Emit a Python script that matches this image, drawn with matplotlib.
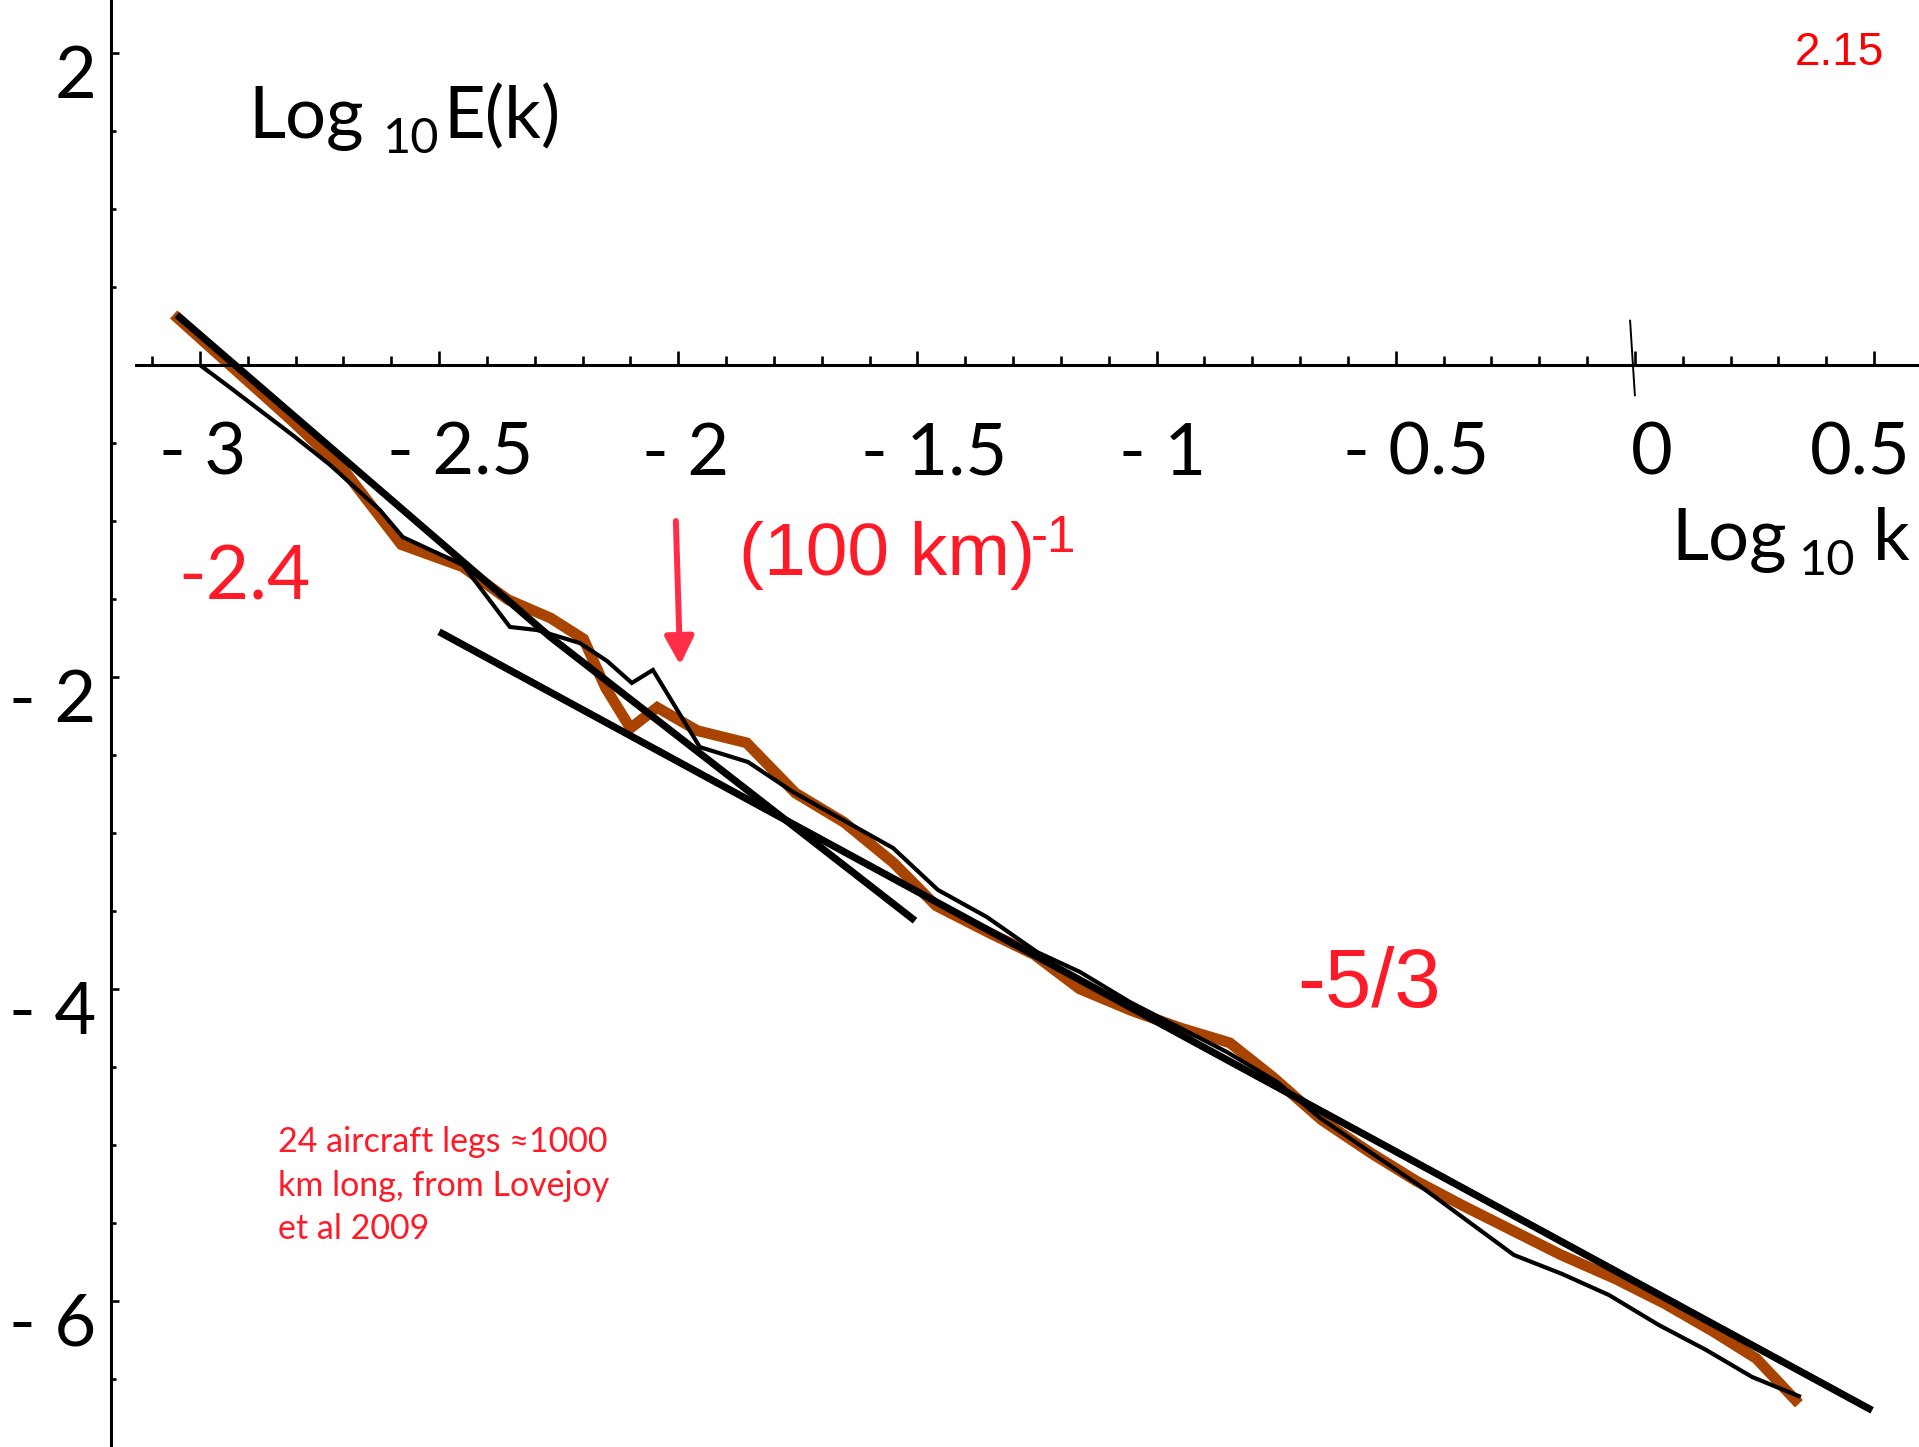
import matplotlib
matplotlib.use("Agg")
import numpy as np
import matplotlib.pyplot as plt
from matplotlib.ticker import FixedLocator
from matplotlib.transforms import ScaledTranslation

# ---------------- data (log10 k , log10 E(k)) ----------------
brown_x = [-3.055, -2.804, -2.697, -2.579, -2.451, -2.356, -2.267, -2.198, -2.152,
           -2.100, -2.044, -1.960, -1.857, -1.755, -1.653, -1.550, -1.461, -1.351,
           -1.256, -1.161, -1.051, -0.949, -0.847, -0.757, -0.655, -0.552, -0.457,
           -0.360, -0.258, -0.156, -0.040, 0.062, 0.164, 0.254, 0.343]
brown_y = [0.324, -0.367, -0.681, -1.151, -1.293, -1.504, -1.622, -1.756, -2.069,
           -2.328, -2.195, -2.344, -2.422, -2.744, -2.932, -3.191, -3.466, -3.638,
           -3.779, -3.999, -4.140, -4.251, -4.345, -4.564, -4.839, -5.051, -5.231,
           -5.388, -5.545, -5.702, -5.859, -6.016, -6.196, -6.369, -6.659]

thin_x = [-3.000, -2.944, -2.806, -2.728, -2.624, -2.576, -2.450, -2.352, -2.295,
          -2.206, -2.149, -2.097, -2.053, -1.955, -1.854, -1.760, -1.551, -1.457,
          -1.355, -1.250, -1.160, -1.056, -0.853, -0.748, -0.658, -0.560, -0.449,
          -0.253, -0.152, -0.054, 0.050, 0.149, 0.245, 0.347]
thin_y = [0.000, -0.128, -0.450, -0.640, -0.929, -1.103, -1.282, -1.679, -1.699,
          -1.782, -1.897, -2.038, -1.955, -2.449, -2.545, -2.737, -3.096, -3.365,
          -3.538, -3.763, -3.891, -4.083, -4.404, -4.596, -4.827, -5.032, -5.263,
          -5.705, -5.827, -5.962, -6.154, -6.314, -6.487, -6.615]

fit_steep_x = [-3.048, -2.268, -1.505]
fit_steep_y = [0.321, -1.742, -3.562]
fit_k53_x = [-2.500, 0.496]
fit_k53_y = [-1.710, -6.701]

zero_mark_x = [-0.010, 0.000]
zero_mark_y = [0.284, -0.194]

arrow_tail = (-2.005, -1.000)
arrow_tip = (-1.996, -1.923)

xtick_vals = [-3, -2.5, -2, -1.5, -1, -0.5, 0, 0.5]
xtick_labels = ["- 3", "- 2.5", "- 2", "- 1.5", "- 1", "- 0.5", "0", "0.5"]
ytick_vals = [-6, -4, -2, 2]
ytick_labels = ["- 6", "- 4", "- 2", "2"]

# ---------------- figure ----------------
W, H = 1919, 1447
DPI = 100
fig = plt.figure(figsize=(W / DPI, H / DPI), dpi=DPI)
ax = fig.add_axes([0, 0, 1, 1])
ax.set_xlim(-3.418, 0.594)
ax.set_ylim(-6.936, 2.340)

FONT = ["Lato", "DejaVu Sans"]
ARIAL = ["Liberation Sans", "DejaVu Sans"]
BROWN = "#A94400"
RED = "#FF1A28"

for s in ("top", "right"):
    ax.spines[s].set_visible(False)
ax.spines["left"].set_position(("data", -3.186))
ax.spines["bottom"].set_position(("data", 0))
ax.spines["bottom"].set_bounds(-3.134, 0.594)
ax.spines["left"].set_linewidth(2.2)
ax.spines["bottom"].set_linewidth(2.2)

ax.xaxis.set_major_locator(FixedLocator(xtick_vals))
ax.set_xticklabels(xtick_labels)
minor_x = [v / 10 for v in range(-31, 6) if v % 5 != 0]
ax.xaxis.set_minor_locator(FixedLocator(minor_x))
ax.yaxis.set_major_locator(FixedLocator(ytick_vals))
ax.set_yticklabels(ytick_labels)
minor_y = [v / 2 for v in range(-13, 5) if v % 4 != 0]
ax.yaxis.set_minor_locator(FixedLocator(minor_y))

ax.tick_params(axis="x", which="major", direction="in", length=10, width=1.9,
               pad=79, labelsize=52)
ax.tick_params(axis="x", which="minor", direction="in", length=6.2, width=1.9)
ax.tick_params(axis="y", which="major", direction="in", length=5.5, width=1.9,
               pad=10.4, labelsize=52)
ax.tick_params(axis="y", which="minor", direction="in", length=3.5, width=1.9)

xoff_px = [46, 94, 51, 90, 50, 93, 38, 37]
for lab, dx in zip(ax.get_xticklabels(), xoff_px):
    lab.set_fontfamily(FONT)
    lab.set_ha("right")
    lab.set_va("baseline")
    lab.set_transform(lab.get_transform() + ScaledTranslation(dx / DPI, 0, fig.dpi_scale_trans))
for lab in ax.get_yticklabels():
    lab.set_fontfamily(FONT)
    lab.set_va("baseline")
    lab.set_transform(lab.get_transform() + ScaledTranslation(0, -45 / DPI, fig.dpi_scale_trans))

# ---------------- lines ----------------
ax.plot(brown_x, brown_y, color=BROWN, lw=7.8, solid_capstyle="butt",
        solid_joinstyle="miter", zorder=2)
ax.plot(thin_x, thin_y, color="black", lw=3.0, solid_capstyle="butt",
        solid_joinstyle="miter", zorder=3)
ax.plot(fit_steep_x, fit_steep_y, color="black", lw=5.2, solid_capstyle="butt", zorder=4)
ax.plot(fit_k53_x, fit_k53_y, color="black", lw=5.2, solid_capstyle="butt", zorder=4)
ax.plot(zero_mark_x, zero_mark_y, color="black", lw=1.4, zorder=5)

ax.annotate("", xy=arrow_tip, xytext=arrow_tail,
            arrowprops=dict(arrowstyle="-|>,head_length=17,head_width=8.8",
                            mutation_scale=1, color="#FF2D46", lw=4.3,
                            shrinkA=0, shrinkB=0))

# ---------------- text ----------------
def ftext(px, py, s, **kw):
    fig.text(px / W, 1 - py / H, s, ha="left", va="baseline", **kw)

ftext(248, 138, "Log", fontsize=52, family=FONT, color="black")
ftext(383, 153, "10", fontsize=35, family=FONT, color="black")
ftext(443, 138, "E(k)", fontsize=52, family=FONT, color="black")

ftext(1671, 560, "Log", fontsize=52, family=FONT, color="black")
ftext(1799, 575, "10", fontsize=35, family=FONT, color="black")
ftext(1873, 560, "k", fontsize=52, family=FONT, color="black")

ftext(178, 600, "-2.4", fontsize=54, family=FONT, color=RED)
ftext(739, 575, "(100 km)", fontsize=54, family=ARIAL, color=RED)
ftext(1031, 552, "-1", fontsize=37, family=ARIAL, color=RED)
ftext(1297, 1007, "-5/3", fontsize=60, family=ARIAL, color=RED)
ftext(1795, 65, "2.15", fontsize=33, family=ARIAL, color="#FF0000")

note_lines = ["24 aircraft legs \u22481000", "km long, from Lovejoy", "et al 2009"]
for i, line in enumerate(note_lines):
    ftext(278, 1152 + 43.5 * i, line, fontsize=24.5, family=FONT, color=RED)

fig.savefig("out.png", dpi=DPI, facecolor="white")
